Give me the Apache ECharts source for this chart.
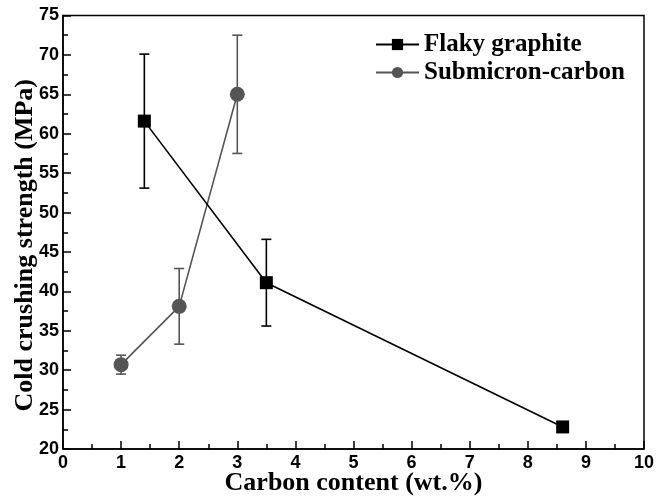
<!DOCTYPE html>
<html><head><meta charset="utf-8">
<script src="https://cdn.jsdelivr.net/npm/echarts@6/dist/echarts.min.js"></script>
<style>html,body{margin:0;padding:0;background:#fff}#c{width:669px;height:497px}</style>
</head><body><div id="c"></div>
<script>
const flakyX = [1.4, 3.5, 8.6];
const flakyY = [61.6, 41.1, 22.8];
const flakyErr = [8.5, 5.5, 0.6];
const subX = [1, 2, 3];
const subY = [30.7, 38.1, 65.0];
const subErr = [1.2, 4.8, 7.5];
const seriesNames = ['Flaky graphite', 'Submicron-carbon'];
const xTitle = 'Carbon content (wt.%)';
const yTitle = 'Cold crushing strength (MPa)';

const flakyColor = '#000000';
const subColor = '#555555';

function pts(xs, ys) { return xs.map((x, i) => [x, ys[i]]); }
function errData(xs, ys, es) { return xs.map((x, i) => [x, ys[i] - es[i], ys[i] + es[i]]); }

function errRender(color) {
  return function (params, api) {
    const x = api.value(0), lo = api.value(1), hi = api.value(2);
    const pLo = api.coord([x, lo]), pHi = api.coord([x, hi]);
    const w = 5;
    const st = { stroke: color, lineWidth: 1.6 };
    return { type: 'group', children: [
      { type: 'line', shape: { x1: pLo[0], y1: pLo[1], x2: pHi[0], y2: pHi[1] }, style: st },
      { type: 'line', shape: { x1: pLo[0] - w, y1: pLo[1], x2: pLo[0] + w, y2: pLo[1] }, style: st },
      { type: 'line', shape: { x1: pHi[0] - w, y1: pHi[1], x2: pHi[0] + w, y2: pHi[1] }, style: st }
    ]};
  };
}

const chart = echarts.init(document.getElementById('c'));
const tickLabel = { color: '#000', fontFamily: 'Liberation Sans', fontWeight: 'bold', fontSize: 18 };
chart.setOption({
  animation: false,
  grid: { left: 63, right: 25, top: 15.5, bottom: 48, show: true, borderColor: '#000', borderWidth: 1.5,
          backgroundColor: 'transparent', containLabel: false, outerBoundsMode: 'none' },
  legend: {
    orient: 'vertical', left: 370, top: 27, itemWidth: 43, itemHeight: 14, itemGap: 3,
    textStyle: { fontFamily: 'Liberation Serif', fontWeight: 'bold', fontSize: 25, color: '#000' },
    data: seriesNames
  },
  xAxis: {
    type: 'value', min: 0, max: 10, interval: 1,
    name: xTitle, nameLocation: 'middle', nameGap: 21, nameMoveOverlap: false,
    nameTextStyle: { fontFamily: 'Liberation Serif', fontWeight: 'bold', fontSize: 26, color: '#000' },
    axisLine: { lineStyle: { color: '#000', width: 1.5 } },
    axisTick: { inside: true, length: 8, lineStyle: { color: '#000', width: 1.5 } },
    minorTick: { show: true, splitNumber: 2, length: 5, lineStyle: { color: '#000', width: 1.5 } },
    axisLabel: Object.assign({ margin: 5 }, tickLabel),
    splitLine: { show: false }
  },
  yAxis: {
    type: 'value', min: 20, max: 75, interval: 5,
    name: yTitle, nameLocation: 'middle', nameGap: 25, nameMoveOverlap: false,
    nameTextStyle: { fontFamily: 'Liberation Serif', fontWeight: 'bold', fontSize: 26, color: '#000', padding: [0, 26, 0, 0] },
    axisLine: { lineStyle: { color: '#000', width: 1.5 } },
    axisTick: { inside: true, length: 8, lineStyle: { color: '#000', width: 1.5 } },
    minorTick: { show: true, splitNumber: 2, length: 5, lineStyle: { color: '#000', width: 1.5 } },
    axisLabel: Object.assign({ margin: 4 }, tickLabel),
    splitLine: { show: false }
  },
  series: [
    { type: 'custom', renderItem: errRender(flakyColor), data: errData(flakyX, flakyY, flakyErr), encode: { x: 0, y: [1, 2] }, z: 1, silent: true },
    { type: 'custom', renderItem: errRender(subColor), data: errData(subX, subY, subErr), encode: { x: 0, y: [1, 2] }, z: 1, silent: true },
    { name: seriesNames[0], type: 'line', data: pts(flakyX, flakyY), symbol: 'rect', symbolSize: 13,
      itemStyle: { color: flakyColor }, lineStyle: { color: flakyColor, width: 1.6 }, z: 3 },
    { name: seriesNames[1], type: 'line', data: pts(subX, subY), symbol: 'circle', symbolSize: 15,
      itemStyle: { color: subColor }, lineStyle: { color: subColor, width: 1.6 }, z: 2 }
  ]
});
</script>
</body></html>
